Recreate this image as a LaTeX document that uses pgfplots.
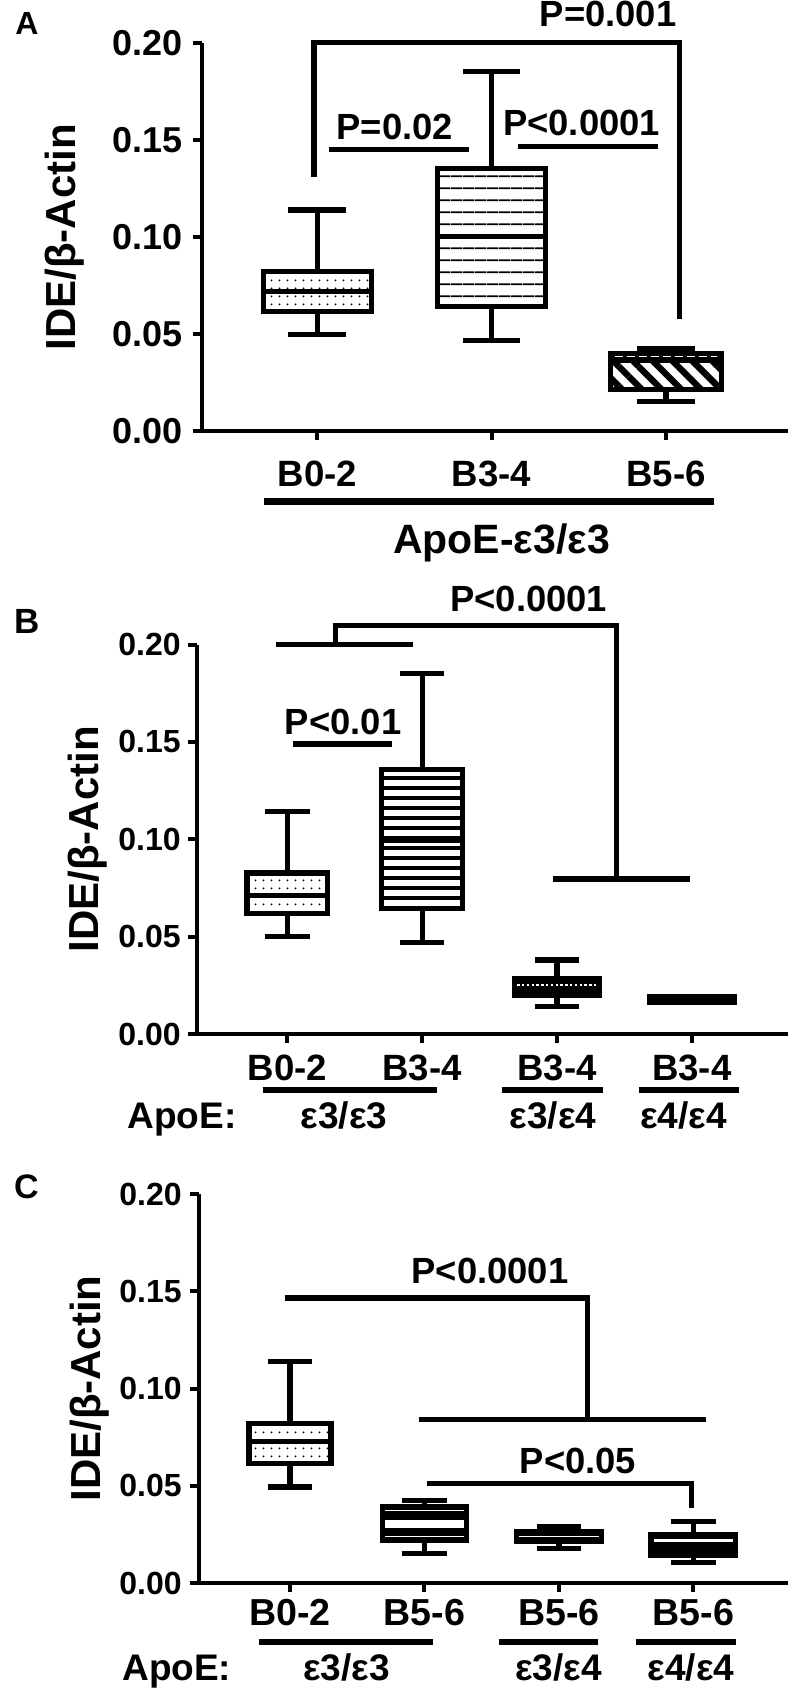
\documentclass[border=0pt]{standalone}
\usepackage{fontspec}
\usepackage{pgfplots}
\pgfplotsset{compat=1.18}
\usepgfplotslibrary{statistics}
\usetikzlibrary{patterns.meta}
\setmainfont{Liberation Sans}
\newfontfamily\fB{Liberation Sans Bold}
\newcommand\fsz[1]{\fontsize{#1}{#1}\selectfont}

\pgfplotsset{
 panel/.style={scale only axis, clip=false, anchor=south west,
   axis lines=left, axis line style={-, line width=2pt, black},
   ymin=0, ymax=0.2, ytick={0,0.05,0.1,0.15,0.2},
   yticklabels={0.00,0.05,0.10,0.15,0.20},
   tick align=outside, major tick length=4.5pt, minor tick num=0,
   tick style={black, line width=2pt},
   xticklabel style={font=\fB\fsz{18.3}, anchor=north, inner sep=0pt},
   yticklabel style={anchor=east, inner sep=0pt},
   every axis y label/.style={rotate=90, anchor=base, font=\fB\fsz{21}},
 },
 bracket/.style={black, line width=2.6pt, line join=miter, line cap=butt},
 wl/.style={white, line cap=butt},
}
\tikzset{plab/.style={anchor=base, font=\fB\fsz{18.2}},
         apo/.style={inner sep=0pt, font=\fB\fsz{18.5}}}

\newcommand\bx[8]{\addplot[draw=black, line width=2.6pt, line cap=butt,
  boxplot prepared={draw direction=y, draw position=#1, lower whisker=#2, lower quartile=#3,
  median=#4, upper quartile=#5, upper whisker=#6, box extend=#7, whisker extend=0.33}, #8] coordinates {};}

\begin{document}
\begin{tikzpicture}
\useasboundingbox (0,0) rectangle (394pt,-844pt);
\node[anchor=base west, inner sep=0pt, font=\fB\fsz{16}] at (7.5pt,-17pt) {A};
\node[anchor=base west, inner sep=0pt, font=\fB\fsz{17.5}] at (6.8pt,-316.6pt) {B};
\node[anchor=base west, inner sep=0pt, font=\fB\fsz{17}] at (6.8pt,-599pt) {C};

% ---------------- Panel A
\begin{axis}[panel, at={(100.75pt,-215.7pt)}, width=293.25pt, height=194.25pt,
  xmin=0.336, xmax=3.70, xtick={1,2,3}, xticklabels={B0-2,B3-4,B5-6},
  xticklabel style={yshift=-10.3pt},
  yticklabel style={font=\fB\fsz{18}, xshift=-4.75pt},
  ylabel={IDE/β-Actin}, ylabel style={at={(axis description cs:-0.214,0.5)}}]
\bx{1}{0.0497}{0.0616}{0.0722}{0.0824}{0.1140}{0.62}{boxplot/every box/.style={pattern={Dots[distance=4pt,radius=0.55pt]}}}
\bx{2}{0.0470}{0.0642}{0.1003}{0.1355}{0.1851}{0.62}{boxplot/every box/.style={pattern={Lines[angle=0,distance=5.85pt,line width=0.9pt]}}}
\bx{3}{0.0152}{0.0216}{0.0375}{0.0399}{0.0427}{0.64}{boxplot/every box/.style={pattern={Lines[angle=-45,distance=7pt,line width=3.2pt]}}, boxplot/every median/.style={line width=4pt}}
\addplot[wl, line width=0.6pt, dash pattern=on 4pt off 2pt] coordinates {(2.71,0.0386)(3.29,0.0386)};
\addplot[bracket] coordinates {(0.981,0.131)(0.981,0.2004)(3.078,0.2004)(3.078,0.058)};
\addplot[bracket] coordinates {(1.067,0.1452)(1.869,0.1452)};
\addplot[bracket] coordinates {(2.149,0.1467)(2.952,0.1467)};
\node[plab] at (axis cs:1.445,0.1504) {P=0.02};
\node[plab] at (axis cs:2.516,0.1522) {P<0.0001};
\node[plab] at (axis cs:2.668,0.2083) {P=0.001};
\addplot[black, line width=3.5pt] coordinates {(0.693,-0.0363)(3.274,-0.0363)};
\node[anchor=base, inner sep=0pt, font=\fB\fsz{20.5}] at (axis cs:2.057,-0.0630) {ApoE-ε3/ε3};
\end{axis}

% ---------------- Panel B
\begin{axis}[panel, at={(98.75pt,-517pt)}, width=295.25pt, height=194.7pt,
  xmin=0.333, xmax=4.714, xtick={1,2,3,4}, xticklabels={B0-2,B3-4,B3-4,B3-4},
  xticklabel style={yshift=-6pt},
  yticklabel style={font=\fB\fsz{16}, xshift=-3.75pt},
  ylabel={IDE/β-Actin}, ylabel style={at={(axis description cs:-0.1677,0.5)}}]
\bx{1}{0.0499}{0.0617}{0.0710}{0.0827}{0.1141}{0.60}{boxplot/every box/.style={pattern={Dots[distance=4pt,radius=0.55pt]}}}
\bx{2}{0.0472}{0.0643}{0.0994}{0.1358}{0.1851}{0.60}{boxplot/every box/.style={pattern={Lines[angle=0,distance=5pt,line width=2pt]}}}
\bx{3}{0.0141}{0.0200}{0.0251}{0.0284}{0.0380}{0.63}{boxplot/every box/.style={fill=black}}
\bx{4}{0.0160}{0.0160}{0.0178}{0.0194}{0.0194}{0.63}{boxplot/every box/.style={fill=black}}
\addplot[wl, line width=1pt, dash pattern=on 1.2pt off 1.2pt] coordinates {(2.705,0.0251)(3.295,0.0251)};
\addplot[bracket] coordinates {(0.919,0.2)(1.93,0.2)};
\addplot[bracket] coordinates {(1.355,0.2)(1.355,0.2099)(3.44,0.2099)(3.44,0.0796)};
\addplot[bracket] coordinates {(2.97,0.0796)(3.99,0.0796)};
\addplot[bracket] coordinates {(1.045,0.149)(1.775,0.149)};
\node[plab] at (axis cs:2.79,0.2169) {P<0.0001};
\node[plab] at (axis cs:1.413,0.154) {P<0.01};
\addplot[black, line width=3pt] coordinates {(0.816,-0.029)(2.108,-0.029)};
\addplot[black, line width=3pt] coordinates {(2.594,-0.029)(3.34,-0.029)};
\addplot[black, line width=3pt] coordinates {(3.612,-0.029)(4.35,-0.029)};
\node[apo, anchor=base west] at (axis cs:-0.19,-0.0483) {ApoE:};
\node[apo, anchor=base] at (axis cs:1.42,-0.0483) {ε3/ε3};
\node[apo, anchor=base] at (axis cs:2.97,-0.0483) {ε3/ε4};
\node[apo, anchor=base] at (axis cs:3.94,-0.0483) {ε4/ε4};
\end{axis}

% ---------------- Panel C
\begin{axis}[panel, at={(99.75pt,-791.5pt)}, width=294.25pt, height=194.5pt,
  xmin=0.327, xmax=4.703, xtick={1,2,3,4}, xticklabels={B0-2,B5-6,B5-6,B5-6},
  xticklabel style={font=\fB\fsz{18.8}, yshift=-3.5pt},
  yticklabel style={font=\fB\fsz{16}, xshift=-4.25pt},
  ylabel={IDE/β-Actin}, ylabel style={at={(axis description cs:-0.1674,0.5)}}]
\bx{1}{0.0494}{0.0615}{0.0729}{0.0822}{0.1137}{0.61}{boxplot/every box/.style={pattern={Dots[distance=4pt,radius=0.55pt]}}}
\bx{2}{0.0151}{0.0218}{0.0350}{0.0394}{0.0425}{0.63}{boxplot/every box/.style={fill=black}}
\bx{3}{0.0177}{0.0216}{0.0239}{0.0262}{0.0289}{0.63}{boxplot/every box/.style={fill=black}}
\bx{4}{0.0104}{0.0141}{0.0220}{0.0249}{0.0317}{0.63}{boxplot/every box/.style={fill=black}}
\addplot[wl, line width=0.7pt] coordinates {(1.705,0.0372)(2.295,0.0372)};
\addplot[wl, line width=4pt] coordinates {(1.705,0.0301)(2.295,0.0301)};
\addplot[wl, line width=0.7pt] coordinates {(1.705,0.0238)(2.295,0.0238)};
\addplot[wl, line width=0.8pt] coordinates {(2.705,0.0239)(3.295,0.0239)};
\addplot[wl, line width=1.5pt] coordinates {(3.705,0.0220)(4.295,0.0220)};
\addplot[bracket] coordinates {(0.966,0.1465)(3.213,0.1465)(3.213,0.0839)};
\addplot[bracket] coordinates {(1.956,0.0839)(4.093,0.0839)};
\addplot[bracket] coordinates {(2.019,0.0513)(3.986,0.0513)(3.986,0.0386)};
\node[plab] at (axis cs:2.487,0.154) {P<0.0001};
\node[plab] at (axis cs:3.141,0.0564) {P<0.05};
\addplot[black, line width=3pt] coordinates {(0.768,-0.0302)(2.065,-0.0302)};
\addplot[black, line width=3pt] coordinates {(2.554,-0.0302)(3.29,-0.0302)};
\addplot[black, line width=3pt] coordinates {(3.57,-0.0302)(4.316,-0.0302)};
\node[apo, anchor=base west] at (axis cs:-0.25,-0.0499) {ApoE:};
\node[apo, anchor=base] at (axis cs:1.421,-0.0499) {ε3/ε3};
\node[apo, anchor=base] at (axis cs:2.998,-0.0499) {ε3/ε4};
\node[apo, anchor=base] at (axis cs:3.981,-0.0499) {ε4/ε4};
\end{axis}
\end{tikzpicture}
\end{document}
